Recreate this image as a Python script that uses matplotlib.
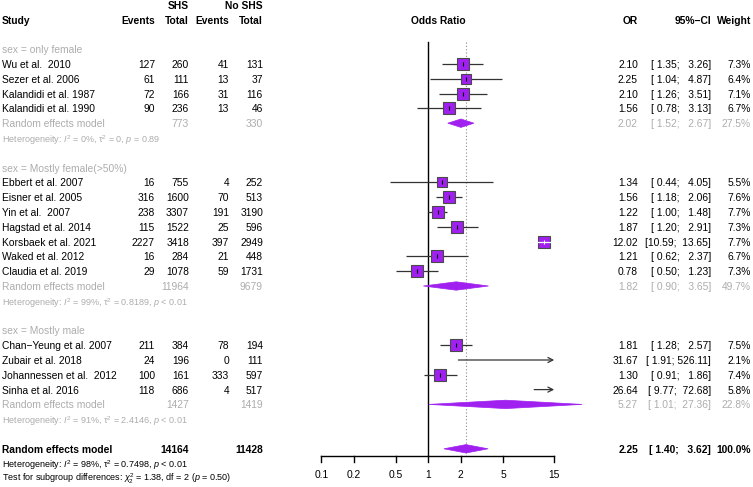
import numpy as np
import matplotlib
matplotlib.use("Agg")
import matplotlib.pyplot as plt
from matplotlib.patches import Polygon

plt.rcParams['font.family'] = ['Liberation Sans', 'DejaVu Sans']
plt.rcParams['mathtext.fontset'] = 'custom'
plt.rcParams['mathtext.rm'] = 'Liberation Sans'
plt.rcParams['mathtext.it'] = 'Liberation Sans:italic'
plt.rcParams['mathtext.bf'] = 'Liberation Sans:bold'

# ---------------- data ----------------
studies = ["Wu et al.  2010", "Sezer et al. 2006", "Kalandidi et al. 1987", "Kalandidi et al. 1990",
           "Ebbert et al. 2007", "Eisner et al. 2005", "Yin et al.  2007", "Hagstad et al. 2014",
           "Korsbaek et al. 2021", "Waked et al. 2012", "Claudia et al. 2019",
           "Chan\u2212Yeung et al. 2007", "Zubair et al. 2018", "Johannessen et al.  2012", "Sinha et al. 2016"]
study_group = [0, 0, 0, 0, 1, 1, 1, 1, 1, 1, 1, 2, 2, 2, 2]
ev_shs = [127, 61, 72, 90, 16, 316, 238, 115, 2227, 16, 29, 211, 24, 100, 118]
n_shs = [260, 111, 166, 236, 755, 1600, 3307, 1522, 3418, 284, 1078, 384, 196, 161, 686]
ev_no = [41, 13, 31, 13, 4, 70, 191, 25, 397, 21, 59, 78, 0, 333, 4]
n_no = [131, 37, 116, 46, 252, 513, 3190, 596, 2949, 448, 1731, 194, 111, 597, 517]
odds = [2.10, 2.25, 2.10, 1.56, 1.34, 1.56, 1.22, 1.87, 12.02, 1.21, 0.78, 1.81, 31.67, 1.30, 26.64]
ci_lo = [1.35, 1.04, 1.26, 0.78, 0.44, 1.18, 1.00, 1.20, 10.59, 0.62, 0.50, 1.28, 1.91, 0.91, 9.77]
ci_hi = [3.26, 4.87, 3.51, 3.13, 4.05, 2.06, 1.48, 2.91, 13.65, 2.37, 1.23, 2.57, 526.11, 1.86, 72.68]
weight = [7.3, 6.4, 7.1, 6.7, 5.5, 7.6, 7.7, 7.3, 7.7, 6.7, 7.3, 7.5, 2.1, 7.4, 5.8]

groups = ["sex = only female", "sex = Mostly female(>50%)", "sex = Mostly male"]
grp_n_shs = [773, 11964, 1427]
grp_n_no = [330, 9679, 1419]
grp_or = [2.02, 1.82, 5.27]
grp_lo = [1.52, 0.90, 1.01]
grp_hi = [2.67, 3.65, 27.36]
grp_w = [27.5, 49.7, 22.8]
grp_het = [r"Heterogeneity: $I^2$ = 0%, τ$^2$ = 0, $p$ = 0.89",
           r"Heterogeneity: $I^2$ = 99%, τ$^2$ = 0.8189, $p$ < 0.01",
           r"Heterogeneity: $I^2$ = 91%, τ$^2$ = 2.4146, $p$ < 0.01"]

tot_n_shs, tot_n_no = 14164, 11428
tot_or, tot_lo, tot_hi, tot_w = 2.25, 1.40, 3.62, 100.0
tot_het = r"Heterogeneity: $I^2$ = 98%, τ$^2$ = 0.7498, $p$ < 0.01"
test_txt = r"Test for subgroup differences: $\chi^2_2$ = 1.38, df = 2 ($p$ = 0.50)"

ticks = [0.1, 0.2, 0.5, 1, 2, 5, 15]

# ---------------- layout ----------------
W, H = 753, 487
Y0, DY = 64.0, 14.8
def yrow(r):
    return Y0 + DY * r

X1, PPD = 428.3, 107.0          # pixel of OR=1, pixels per decade
L, R = 300, 610

FS = 7.4
FS_S = 6.5
GRAY = '#adadad'
PURPLE = '#A020F0'

x_ev1, x_n1, x_ev2, x_n2 = 155, 189, 229, 263
x_or, x_ci, x_w = 638, 711, 751

fig = plt.figure(figsize=(W / 100, H / 100), dpi=100)
tax = fig.add_axes([0, 0, 1, 1])
tax.set_xlim(0, W)
tax.set_ylim(H, 0)
tax.axis('off')

fax = fig.add_axes([L / W, 0, (R - L) / W, 1])
fax.set_xscale('log')
fax.set_xlim(10 ** ((L - X1) / PPD), 10 ** ((R - X1) / PPD))
fax.set_ylim(H, 0)
fax.axis('off')
fax.patch.set_alpha(0)

def txt(x, y, s, ha='left', color='black', bold=False, size=FS):
    tax.text(x, y, s, ha=ha, va='center_baseline', color=color, fontsize=size,
             fontweight='bold' if bold else 'normal')

def ci_str(lo, hi):
    return "[" + f"{lo:.2f}".rjust(5) + "; " + f"{hi:.2f}".rjust(6) + "]"

# headers
txt(x_n1, yrow(-4), "SHS", ha='right', bold=True)
txt(x_n2, yrow(-4), "No SHS", ha='right', bold=True)
txt(2, yrow(-3), "Study", bold=True)
txt(x_ev1, yrow(-3), "Events", ha='right', bold=True)
txt(x_n1, yrow(-3), "Total", ha='right', bold=True)
txt(x_ev2, yrow(-3), "Events", ha='right', bold=True)
txt(x_n2, yrow(-3), "Total", ha='right', bold=True)
txt(438, yrow(-3), "Odds Ratio", ha='center', bold=True)
txt(x_or, yrow(-3), "OR", ha='right', bold=True)
txt(x_ci, yrow(-3), "95%\u2212CI", ha='right', bold=True)
txt(x_w, yrow(-3), "Weight", ha='right', bold=True)

XMAX = ticks[-1]

def diamond(est, lo, hi, y, h=4.2):
    poly = Polygon([(lo, y), (est, y - h), (hi, y), (est, y + h)], closed=True,
                   facecolor=PURPLE, edgecolor=PURPLE, lw=0.5, zorder=3)
    fax.add_patch(poly)

row = -1
for g in range(len(groups)):
    txt(2, yrow(row), groups[g], color=GRAY)
    row += 1
    for i in [k for k in range(len(studies)) if study_group[k] == g]:
        y = yrow(row)
        txt(2, y, studies[i])
        txt(x_ev1, y, str(ev_shs[i]), ha='right')
        txt(x_n1, y, str(n_shs[i]), ha='right')
        txt(x_ev2, y, str(ev_no[i]), ha='right')
        txt(x_n2, y, str(n_no[i]), ha='right')
        txt(x_or, y, f"{odds[i]:.2f}", ha='right')
        txt(x_ci, y, ci_str(ci_lo[i], ci_hi[i]), ha='right')
        txt(x_w, y, f"{weight[i]:.1f}%", ha='right')
        # CI line
        if ci_hi[i] > XMAX:
            fax.annotate("", xy=(XMAX, y), xytext=(ci_lo[i], y),
                         arrowprops=dict(arrowstyle='->,head_length=0.35,head_width=0.18',
                                         color='#333333', lw=0.9, shrinkA=0, shrinkB=0),
                         zorder=2)
        else:
            fax.plot([ci_lo[i], ci_hi[i]], [y, y], color='#333333', lw=0.9, zorder=2,
                     solid_capstyle='butt')
        if odds[i] <= XMAX:
            side_px = 11.9 * np.sqrt(weight[i] / 7.7)
            fax.plot([odds[i]], [y], marker='s', ms=side_px * 0.72, mfc=PURPLE,
                     mec='#4a4a4a', mew=0.8, zorder=3, ls='none')
            half = side_px / 2
            inside = (PPD * np.log10(odds[i] / ci_lo[i]) <= half + 0.8 and
                      PPD * np.log10(ci_hi[i] / odds[i]) <= half + 0.8)
            c_in = 'white' if inside else 'black'
            if inside:
                fax.plot([ci_lo[i], ci_hi[i]], [y, y], color='white', lw=0.9, zorder=4)
            fax.plot([odds[i]], [y], marker='|', ms=3.5, mew=0.8, color=c_in, zorder=4, ls='none')
        row += 1
    y = yrow(row)
    txt(2, y, "Random effects model", color=GRAY)
    txt(x_n1, y, str(grp_n_shs[g]), ha='right', color=GRAY)
    txt(x_n2, y, str(grp_n_no[g]), ha='right', color=GRAY)
    txt(x_or, y, f"{grp_or[g]:.2f}", ha='right', color=GRAY)
    txt(x_ci, y, ci_str(grp_lo[g], grp_hi[g]), ha='right', color=GRAY)
    txt(x_w, y, f"{grp_w[g]:.1f}%", ha='right', color=GRAY)
    diamond(grp_or[g], grp_lo[g], grp_hi[g], y)
    row += 1
    txt(2, yrow(row), grp_het[g], color=GRAY, size=FS_S)
    row += 2

# overall
y = yrow(row)
txt(2, y, "Random effects model", bold=True)
txt(x_n1, y, str(tot_n_shs), ha='right', bold=True)
txt(x_n2, y, str(tot_n_no), ha='right', bold=True)
txt(x_or, y, f"{tot_or:.2f}", ha='right', bold=True)
txt(x_ci, y, ci_str(tot_lo, tot_hi), ha='right', bold=True)
txt(x_w, y, f"{tot_w:.1f}%", ha='right', bold=True)
diamond(tot_or, tot_lo, tot_hi, y)
txt(2, yrow(row + 1), tot_het, size=FS_S)
txt(2, yrow(row + 2) - 1.5, test_txt, size=FS_S)

# reference lines
Y_AX = 456
fax.plot([1, 1], [42, Y_AX], color='black', lw=1, zorder=1)
fax.plot([tot_or, tot_or], [42, Y_AX], color='#8a8a8a', lw=0.8, ls=(0, (1, 2)), zorder=1)

# x axis
fax.plot([ticks[0], ticks[-1]], [Y_AX, Y_AX], color='black', lw=1, zorder=1)
for t in ticks:
    fax.plot([t, t], [Y_AX, Y_AX + 6], color='black', lw=1, zorder=1)
    fax.text(t, 474, f"{t:g}", ha='center', va='center_baseline', fontsize=FS)

fig.savefig("out.png", dpi=100)
